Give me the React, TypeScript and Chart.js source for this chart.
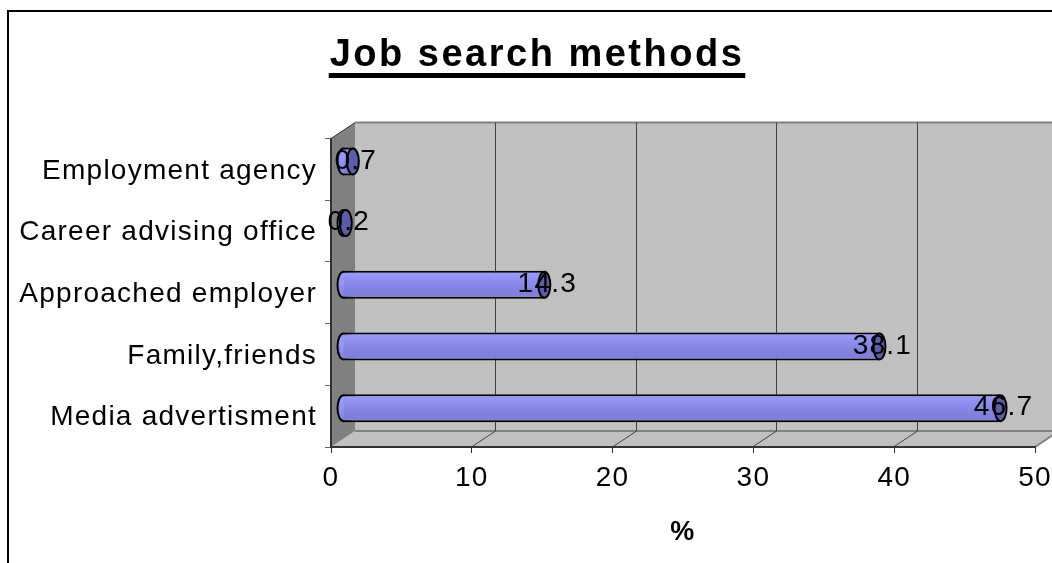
import React, { useEffect, useRef } from "react";
import { Chart, registerables } from "chart.js";

Chart.register(...registerables);

const chartTitle = "Job search methods";
const axisTitle = "%";
const categories = ["Employment agency", "Career advising office", "Approached employer", "Family,friends", "Media advertisment"];
const values = [0.7, 0.2, 14.3, 38.1, 46.7];
const FONT = "'Liberation Sans', Arial, sans-serif";
const DX = 24;
const DY = 16;
const BAR = 28;
const TEXT_SPACING = "1.25px";
const TITLE_SPACING = "2.5px";

function barGradient(ctx: any, cy: number) {
  const g = ctx.createLinearGradient(0, cy - BAR / 2, 0, cy + BAR / 2);
  g.addColorStop(0, "#9999ff");
  g.addColorStop(0.45, "#9696f8");
  g.addColorStop(0.65, "#8c8ceb");
  g.addColorStop(1, "#7f7fdc");
  return g;
}

const depthPlugin = {
  id: "depth",
  afterLayout(chart: any) {
    // category labels run further left than the layout box: keep them from being clipped
    chart.scales.y.left = 0;
  },
  beforeDraw(chart: any) {
    const { ctx, scales } = chart;
    const x = scales.x;
    const y = scales.y;
    const L = x.left, R = x.right, T = y.top, B = y.bottom;
    ctx.save();
    ctx.fillStyle = "#ffffff";
    ctx.fillRect(0, 0, chart.width, chart.height);
    // outer frame
    ctx.strokeStyle = "#000";
    ctx.lineWidth = 2;
    ctx.beginPath();
    ctx.moveTo(8, chart.height + 5);
    ctx.lineTo(8, 11);
    ctx.lineTo(chart.width + 5, 11);
    ctx.stroke();
    // back wall
    ctx.fillStyle = "#c0c0c0";
    ctx.fillRect(L + DX, T - DY, R - L, B - T);
    // floor
    ctx.beginPath();
    ctx.moveTo(L, B); ctx.lineTo(R, B); ctx.lineTo(R + DX, B - DY); ctx.lineTo(L + DX, B - DY); ctx.closePath();
    ctx.fill();
    // side wall
    ctx.fillStyle = "#808080";
    ctx.beginPath();
    ctx.moveTo(L, B); ctx.lineTo(L, T); ctx.lineTo(L + DX, T - DY); ctx.lineTo(L + DX, B - DY); ctx.closePath();
    ctx.fill();
    // wall edges
    ctx.strokeStyle = "#808080";
    ctx.lineWidth = 2;
    ctx.beginPath();
    ctx.moveTo(L + DX, T - DY); ctx.lineTo(R + DX, T - DY);
    ctx.moveTo(L + DX, B - DY); ctx.lineTo(R + DX, B - DY);
    ctx.moveTo(R, B); ctx.lineTo(R + DX, B - DY);
    ctx.stroke();
    ctx.strokeStyle = "#333";
    ctx.lineWidth = 1;
    ctx.beginPath();
    ctx.moveTo(L, T); ctx.lineTo(L + DX, T - DY);
    ctx.stroke();
    // gridlines following the depth
    ctx.strokeStyle = "#404040";
    ctx.lineWidth = 1;
    x.ticks.forEach((t: any) => {
      if (t.value === x.min || t.value === x.max) return;
      const px = Math.round(x.getPixelForValue(t.value)) - 0.5;
      ctx.beginPath();
      ctx.moveTo(px, B);
      ctx.lineTo(px + DX, B - DY);
      ctx.lineTo(px + DX, T - DY);
      ctx.stroke();
    });
    ctx.restore();
    ctx.letterSpacing = TEXT_SPACING;
    const tb = chart.titleBlock;
    if (tb && !tb.__wrapped) {
      const orig = tb.draw;
      tb.draw = function () {
        ctx.letterSpacing = TITLE_SPACING;
        orig.call(this);
        ctx.letterSpacing = TEXT_SPACING;
      };
      tb.__wrapped = true;
    }
  },
  beforeDatasetsDraw(chart: any) {
    const { ctx } = chart;
    ctx.save();
    ctx.translate(DX / 2, -DY / 2);
    const meta = chart.getDatasetMeta(0);
    meta.data.forEach((el: any) => {
      const ry = el.height / 2 - 1;
      ctx.beginPath();
      ctx.ellipse(el.base, el.y, 6, ry, 0, 0, Math.PI * 2);
      ctx.fillStyle = barGradient(ctx, el.y);
      ctx.fill();
      ctx.strokeStyle = "#000";
      ctx.lineWidth = 2;
      ctx.stroke();
    });
  },
  afterDatasetsDraw(chart: any) {
    const { ctx } = chart;
    const meta = chart.getDatasetMeta(0);
    meta.data.forEach((el: any) => {
      const ry = el.height / 2 - 1;
      ctx.beginPath();
      ctx.ellipse(el.x, el.y, 6, ry, 0, 0, Math.PI * 2);
      ctx.fillStyle = "#5c5ca8";
      ctx.fill();
      ctx.strokeStyle = "#000";
      ctx.lineWidth = 2;
      ctx.stroke();
    });
    ctx.fillStyle = "#000";
    ctx.font = `28px ${FONT}`;
    ctx.textAlign = "center";
    ctx.textBaseline = "middle";
    meta.data.forEach((el: any, i: number) => {
      ctx.fillText(String(values[i]), el.x + 3, el.y - 0.5);
    });
    ctx.restore();
  },
  afterDraw(chart: any) {
    const { ctx } = chart;
    const tb = chart.titleBlock;
    ctx.save();
    ctx.letterSpacing = TITLE_SPACING;
    ctx.font = `bold 38px ${FONT}`;
    const w = ctx.measureText(chartTitle).width;
    const c = (tb.left + tb.right) / 2;
    ctx.fillStyle = "#000";
    ctx.fillRect(c - w / 2 - 1, 73, w + 2, 5);
    ctx.restore();
  },
};

export default function App() {
  const ref = useRef<HTMLCanvasElement>(null);
  useEffect(() => {
    const canvas = ref.current!;
    const chart = new Chart(canvas, {
      type: "bar",
      plugins: [depthPlugin as any],
      data: {
        labels: categories,
        datasets: [
          {
            data: values,
            barThickness: BAR,
            inflateAmount: 0,
            clip: false,
            borderColor: "#000",
            borderWidth: { top: 2, bottom: 2, left: 0, right: 0 },
            borderSkipped: false,
            backgroundColor: (c: any) => {
              const yScale = c.chart.scales.y;
              if (!yScale) return "#9090ee";
              const cy = yScale.getPixelForValue(c.dataIndex) - DY / 2;
              if (!Number.isFinite(cy)) return "#9090ee";
              return barGradient(c.chart.ctx, cy);
            },
          } as any,
        ],
      },
      options: {
        indexAxis: "y",
        animation: false,
        responsive: false,
        layout: { padding: { left: 39, right: 17, top: 0, bottom: 0 } },
        plugins: {
          legend: { display: false },
          tooltip: { enabled: false },
          title: {
            display: true,
            text: chartTitle,
            color: "#000",
            font: { family: FONT, size: 38, weight: "bold", lineHeight: 1.2 },
            padding: { top: 33, bottom: 60 },
          },
        },
        scales: {
          x: {
            min: 0,
            max: 50,
            ticks: { stepSize: 10, color: "#000", maxRotation: 0, padding: 8, font: { family: FONT, size: 28 } },
            grid: { drawOnChartArea: false, color: "#333", tickLength: 6 },
            border: { color: "#333", width: 2 },
            title: {
              display: true,
              text: axisTitle,
              color: "#000",
              font: { family: FONT, size: 27, weight: "bold" },
              padding: { top: 0, bottom: 14 },
            },
            afterFit: (s: any) => { s.height = 116; s.paddingRight = 0; s.paddingLeft = 0; },
          },
          y: {
            ticks: { color: "#000", padding: 8, labelOffset: 1.5, font: { family: FONT, size: 28 } },
            grid: { drawOnChartArea: false, color: "#666", tickLength: 6, offset: true },
            border: { color: "#333", width: 2 },
            afterFit: (s: any) => { s.width = 292; s.paddingTop = 0; s.paddingBottom = 0; },
          },
        },
      } as any,
    });
    return () => chart.destroy();
  }, []);
  return (
    <canvas
      ref={ref}
      width={1052}
      height={563}
      style={{ position: "fixed", left: 0, top: 0, width: 1052, height: 563, display: "block" }}
    />
  );
}
